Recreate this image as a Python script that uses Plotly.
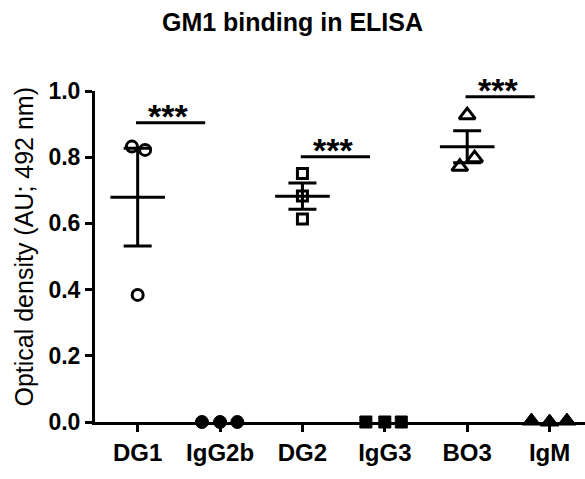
import numpy as np
import plotly.graph_objects as go

categories = ["DG1", "IgG2b", "DG2", "IgG3", "BO3", "IgM"]
dg1 = [0.832, 0.822, 0.384]
igg2b = [0.0, 0.0, 0.0]
dg2 = [0.751, 0.683, 0.613]
igg3 = [0.0, 0.0, 0.0]
bo3 = [0.927, 0.797, 0.771]
igm = [0.003, 0.0, 0.003]
series = [dg1, igg2b, dg2, igg3, bo3, igm]
jitter = [[-0.07, 0.09, 0.0], [-0.22, 0.0, 0.21], [0.0, 0.0, 0.0],
          [-0.23, 0.0, 0.20], [0.0, 0.09, -0.09], [-0.22, 0.0, 0.21]]
symbols = ["circle-open", "circle", "square-open", "square", "triangle-up-open", "triangle-up"]
sizes = [11, 13, 10, 12, 14, 16]
y_ticks = [0.0, 0.2, 0.4, 0.6, 0.8, 1.0]
sig_pairs = [(0, 1), (2, 3), (4, 5)]
sig_heights = [0.904, 0.801, 0.983]
sig_labels = ["***", "***", "***"]

FONT = "Liberation Sans, Arial, sans-serif"
fig = go.Figure()

# mean +/- SEM for test groups
for i in (0, 2, 4):
    v = np.array(series[i])
    m = v.mean()
    sem = v.std(ddof=1) / np.sqrt(len(v))
    fig.add_trace(go.Scatter(
        x=[i], y=[m], mode="markers",
        marker=dict(symbol="line-ew-open", size=39, color="black",
                    line=dict(width=3, color="black")),
        error_y=dict(type="data", array=[sem], visible=True, color="black",
                     thickness=3, width=14),
        cliponaxis=False, showlegend=False, hoverinfo="skip"))

for i, vals in enumerate(series):
    opened = symbols[i].endswith("open")
    fig.add_trace(go.Scatter(
        x=[i + d for d in jitter[i]], y=vals, mode="markers",
        marker=dict(symbol=symbols[i], size=sizes[i], color="black",
                    line=dict(width=3 if opened else 1, color="black")),
        cliponaxis=False, showlegend=False, name=categories[i]))

for (a, b), h, lab in zip(sig_pairs, sig_heights, sig_labels):
    fig.add_trace(go.Scatter(
        x=[a - 0.02, b - 0.18], y=[h, h], mode="lines",
        line=dict(color="black", width=3), cliponaxis=False,
        showlegend=False, hoverinfo="skip"))
    fig.add_annotation(x=a + 0.37, y=h, text="<b>" + lab + "</b>",
                       showarrow=False, yanchor="middle", yshift=7,
                       font=dict(family=FONT, size=34, color="black"))

fig.add_annotation(xref="paper", yref="paper", x=(24 - 95) / 490, y=0.53,
                   xanchor="center", yanchor="middle",
                   text="Optical density (AU; 492 nm)", textangle=-90,
                   showarrow=False, font=dict(family=FONT, size=25, color="black"))

fig.update_layout(
    width=585, height=479,
    margin=dict(l=95, r=0, t=91, b=57, pad=0),
    paper_bgcolor="white", plot_bgcolor="white",
    title=dict(text="<b>GM1 binding in ELISA</b>", x=0.5, xanchor="center",
               y=1 - 22 / 479, yanchor="middle",
               font=dict(family=FONT, size=25, color="black")),
    xaxis=dict(range=[-0.518, 5.43], tickmode="array", automargin=False,
               tickvals=list(range(len(categories))), ticktext=categories,
               showgrid=False, zeroline=False, showline=True, linecolor="black",
               linewidth=3, ticks="outside", ticklen=7, tickwidth=3, tickcolor="black",
               layer="below traces",
               tickfont=dict(family=FONT, size=24, color="black", weight="bold")),
    yaxis=dict(range=[0, 1.0], tickmode="array", tickvals=y_ticks, automargin=False,
               ticktext=[f"{t:.1f}" for t in y_ticks],
               showgrid=False, zeroline=False, showline=True, linecolor="black",
               linewidth=3, ticks="outside", ticklen=7, tickwidth=3, tickcolor="black",
               layer="below traces",
               tickfont=dict(family=FONT, size=23, color="black", weight="bold")),
)

fig.write_html("out.html", config={"displayModeBar": False},
               post_script="document.body.style.margin='0';document.body.style.overflow='hidden';")
